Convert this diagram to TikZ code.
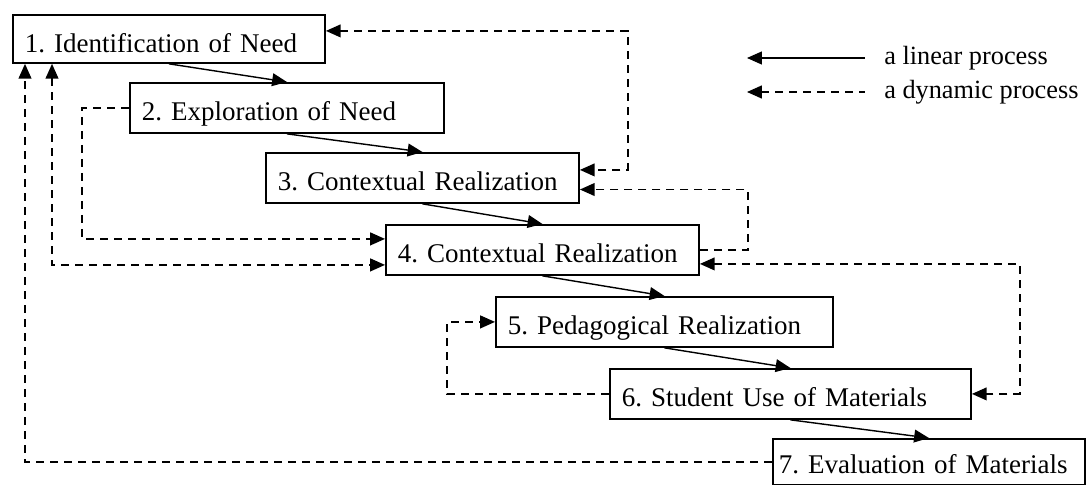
\documentclass[tikz,border=0pt]{standalone}
\usepackage{fontspec}
\setmainfont{Liberation Serif}
\usepackage{tikz}
\usetikzlibrary{arrows.meta}
\tikzset{stage/.style = {draw, line width=1.3pt, anchor=north west, align=left, inner xsep=.3cm, inner ysep=0pt, text height=.95cm, text depth=.3cm, text width=#1, font=\fontsize{19.2pt}{22pt}\selectfont\frenchspacing}}
\tikzset{legtext/.style = {anchor=west, inner sep=0pt, font=\fontsize{18.7pt}{21pt}\selectfont}}
\tikzset{lin/.style = {line width=1pt, ->}}
\tikzset{dyn/.style = {line width=1.1pt, dash pattern=on .2cm off .15cm, ->}}

\begin{document}
\begin{tikzpicture}[x=.025cm, y=-.025cm,
  >={Triangle[length=.37cm, width=.32cm]}
]
\useasboundingbox (0,0) rectangle (1087,485);

\node[stage=7.2cm, text depth=.25cm] (b1) at (12,14) {1. Identification of Need};
\node[stage=7.25cm] (b2) at (129,82) {2. Exploration of Need};
\node[stage=7.225cm] (b3) at (265,152) {3. Contextual Realization};
\node[stage=7.225cm] (b4) at (385,224) {4. Contextual Realization};
\node[stage=7.825cm] (b5) at (495,296) {5. Pedagogical Realization};
\node[stage=8.425cm] (b6) at (609,368) {6. Student Use of Materials};
\node[stage=7.5cm, inner xsep=.15cm, text height=.87cm, text depth=.28cm] (b7) at (772,438) {7. Evaluation of Materials};

% legend
\node[legtext] (l1) at (884,58) {a linear process};
\node[legtext] (l2) at (884,92) {a dynamic process};
\draw[lin, <-] ([xshift=-3.425cm]l1.west) -- ([xshift=-.475cm]l1.west);
\draw[dyn, <-] ([xshift=-3.425cm]l2.west) -- ([xshift=-.475cm]l2.west);

% the linear steps
\draw[lin] (b1.south) -- (b2.north);
\draw[lin] (b2.south) -- (b3.north);
\draw[lin] (b3.south) -- (b4.north);
\draw[lin] (b4.south) -- (b5.north);
\draw[lin] (b5.south) -- (b6.north);
\draw[lin] (b6.south) -- (b7.north);

% the dynamic loops
\draw[dyn, <->] ([yshift=.2cm]b1.east) -- ++(302,0) |- ([yshift=.2cm]b3.east);
\draw[dyn] (b4.east) -- ++(48,0) |- ([yshift=-.29cm]b3.east);
\draw[dyn, <->] ([yshift=-.35cm]b4.east) -- ++(320,0) |- (b6.east);
\draw[dyn] (b2.west) -- ++(-47,0) |- ([yshift=.275cm]b4.west);
\draw[dyn, <->] ([xshift=1cm]b1.south west) |- ([yshift=-.375cm]b4.west);
\draw[dyn] (b7.west) -| ([xshift=.325cm]b1.south west);
\draw[dyn] (b6.west) -- ++(-162,0) |- (b5.west);

\end{tikzpicture}
\end{document}
